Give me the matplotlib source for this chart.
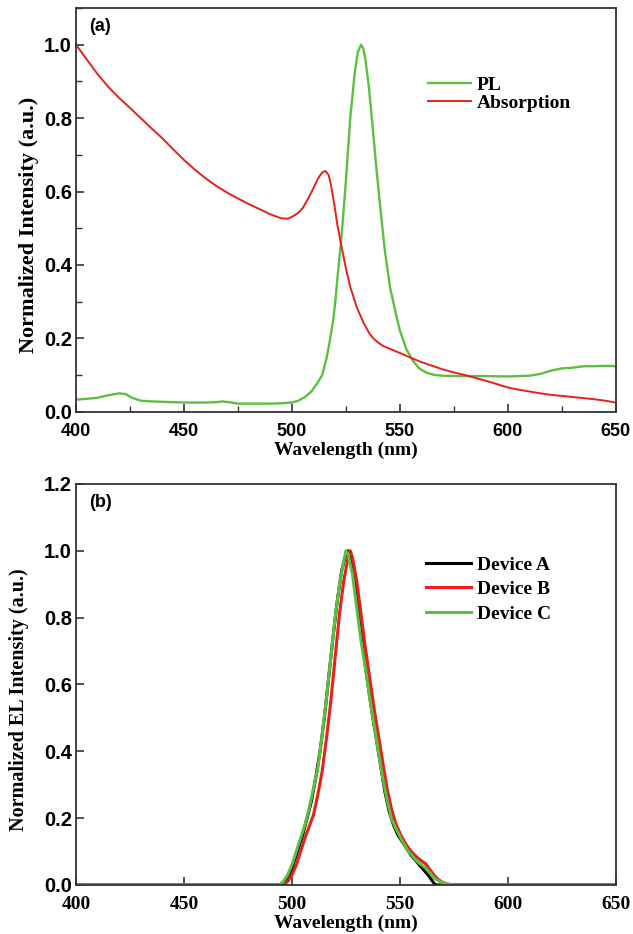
import matplotlib
matplotlib.use("Agg")
import matplotlib.pyplot as plt
from matplotlib.ticker import MultipleLocator

# ---- panel (a): PL and absorption ----
abs_wl = [400, 405, 410, 415, 420, 425, 430, 435, 440, 445, 450, 455, 460, 465,
          470, 475, 480, 485, 490, 495, 498, 500, 503, 505, 508, 510, 512, 514,
          515.5, 517, 518, 519, 520, 521, 523, 525, 527, 530, 533, 536, 538, 540,
          542, 545, 550, 555, 560, 565, 570, 575, 580, 585, 590, 595, 600, 605,
          610, 615, 620, 625, 630, 635, 640, 645, 650]
abs_val = [1.0, 0.96, 0.92, 0.885, 0.855, 0.828, 0.80, 0.772, 0.745, 0.715,
           0.686, 0.66, 0.636, 0.615, 0.597, 0.581, 0.566, 0.552, 0.538, 0.527,
           0.526, 0.531, 0.542, 0.555, 0.586, 0.61, 0.635, 0.652, 0.656, 0.645,
           0.62, 0.586, 0.55, 0.51, 0.449, 0.39, 0.34, 0.285, 0.244, 0.212, 0.198,
           0.188, 0.18, 0.172, 0.16, 0.147, 0.135, 0.125, 0.115, 0.107, 0.10,
           0.092, 0.084, 0.075, 0.066, 0.06, 0.055, 0.05, 0.046, 0.043, 0.04,
           0.037, 0.034, 0.03, 0.025]

pl_wl = [400, 405, 410, 415, 420, 423, 426, 430, 435, 440, 450, 460, 465, 468,
         472, 475, 480, 490, 495, 500, 503, 506, 509, 512, 514, 516, 517, 518,
         519, 520, 521, 522, 523, 525, 527, 529, 530.5, 532, 533, 534, 535.6,
         537, 539, 540.7, 543, 545.4, 548, 550, 553, 556, 559, 562, 566, 570,
         580, 590, 600, 610, 615, 620, 625, 630, 635, 640, 645, 650]
pl_val = [0.033, 0.035, 0.038, 0.045, 0.05, 0.048, 0.038, 0.03, 0.028, 0.027,
          0.025, 0.025, 0.026, 0.028, 0.025, 0.022, 0.022, 0.022, 0.023, 0.025,
          0.03, 0.04, 0.055, 0.08, 0.10, 0.145, 0.175, 0.21, 0.245, 0.295, 0.36,
          0.42, 0.48, 0.63, 0.80, 0.92, 0.98, 1.0, 0.99, 0.96, 0.886, 0.80, 0.67,
          0.567, 0.44, 0.34, 0.27, 0.221, 0.17, 0.139, 0.118, 0.107, 0.10, 0.098,
          0.097, 0.097, 0.096, 0.098, 0.103, 0.112, 0.118, 0.12, 0.124, 0.124,
          0.125, 0.124]

# ---- panel (b): EL of devices ----
a_wl = [400, 495, 497, 499, 501, 503, 505, 507, 509, 511, 513, 515, 517, 519,
        521, 523, 525, 526, 527, 529, 531, 533, 535, 537, 539, 541, 543, 545,
        547, 549, 551, 553, 555, 557, 559, 561, 563, 565, 566, 567, 650]
a_val = [0, 0, 0.01, 0.03, 0.07, 0.11, 0.15, 0.20, 0.25, 0.32, 0.40, 0.50, 0.62,
         0.74, 0.85, 0.94, 0.99, 1.0, 0.98, 0.91, 0.80, 0.70, 0.61, 0.52, 0.44,
         0.36, 0.28, 0.22, 0.18, 0.15, 0.13, 0.11, 0.09, 0.075, 0.06, 0.045,
         0.03, 0.012, 0.003, 0, 0]

b_wl = [400, 496, 498, 500, 502, 504, 506, 508, 510, 512, 514, 516, 518, 520,
        522, 524, 526, 527, 528, 530, 532, 534, 536, 538, 540, 542, 544, 546,
        548, 550, 552, 554, 556, 558, 560, 562, 564, 566, 568, 570, 572, 575, 650]
b_val = [0, 0, 0.01, 0.03, 0.06, 0.10, 0.14, 0.175, 0.21, 0.27, 0.34, 0.44, 0.55,
         0.68, 0.81, 0.91, 0.98, 1.0, 0.98, 0.91, 0.81, 0.71, 0.62, 0.53, 0.45,
         0.37, 0.29, 0.23, 0.185, 0.155, 0.13, 0.11, 0.095, 0.082, 0.072, 0.063,
         0.045, 0.028, 0.015, 0.007, 0.003, 0, 0]

c_wl = [400, 494, 496, 498, 500, 502, 504, 506, 508, 510, 512, 514, 516, 518,
        520, 522, 524, 525, 526, 528, 530, 532, 534, 536, 538, 540, 542, 544,
        546, 548, 550, 552, 554, 556, 558, 560, 562, 564, 566, 568, 570, 572,
        575, 650]
c_val = [0, 0, 0.01, 0.03, 0.06, 0.10, 0.14, 0.18, 0.23, 0.29, 0.35, 0.45, 0.56,
         0.68, 0.80, 0.90, 0.97, 1.0, 0.99, 0.93, 0.83, 0.73, 0.65, 0.56, 0.48,
         0.40, 0.32, 0.255, 0.20, 0.17, 0.145, 0.12, 0.10, 0.085, 0.07, 0.06,
         0.05, 0.035, 0.02, 0.012, 0.006, 0.002, 0, 0]

GREEN = "#5cbf3f"
RED = "#e8201c"
SERIF = "Liberation Serif"
SANS = "Liberation Sans"


def style_axes(ax, minor):
    for sp in ax.spines.values():
        sp.set_linewidth(1.3)
        sp.set_color("#333333")
    ax.set_xlim(400, 650)
    ax.xaxis.set_major_locator(MultipleLocator(50))
    ax.yaxis.set_major_locator(MultipleLocator(0.2))
    if minor:
        ax.xaxis.set_minor_locator(MultipleLocator(25))
        ax.yaxis.set_minor_locator(MultipleLocator(0.1))
    ax.tick_params(which="major", direction="in", length=6, width=1.2,
                   top=False, right=False, color="#333333")
    ax.tick_params(which="minor", direction="in", length=4, width=1.0,
                   top=False, right=False, color="#333333")
    ax.tick_params(axis="x", which="major", pad=8)
    ax.tick_params(axis="y", which="major", pad=3)
    ax.set_xlabel("Wavelength (nm)", fontsize=14, fontweight="bold",
                  family=SERIF, labelpad=1)


fig = plt.figure(figsize=(6.33, 9.34), dpi=100)

# panel (a)
ax1 = fig.add_axes([0.120, 0.5592, 0.853, 0.4322])
ax1.plot(pl_wl, pl_val, color=GREEN, lw=1.7, label="PL")
ax1.plot(abs_wl, abs_val, color=RED, lw=1.4, label="Absorption")
style_axes(ax1, minor=True)
ax1.set_ylim(0, 1.1)
ax1.set_yticks([0.0, 0.2, 0.4, 0.6, 0.8, 1.0])
ax1.set_ylabel("Normalized Intensity (a.u.)", fontsize=16, fontweight="bold",
               family=SERIF)
ax1.yaxis.set_label_coords(-0.068, 0.463)
for lab in ax1.get_xticklabels():
    lab.set_fontfamily(SANS)
    lab.set_fontweight("bold")
    lab.set_fontsize(13)
for lab in ax1.get_yticklabels():
    lab.set_fontfamily(SANS)
    lab.set_fontweight("bold")
    lab.set_fontsize(14.5)
ax1.text(0.025, 0.975, "(a)", transform=ax1.transAxes, ha="left", va="top",
         fontsize=13, fontweight="bold", family=SANS)
ax1.legend(loc="upper left", bbox_to_anchor=(0.652, 0.83), frameon=False,
           prop={"family": SERIF, "weight": "bold", "size": 14},
           handlelength=2.2, handletextpad=0.3, labelspacing=0.0,
           borderpad=0, borderaxespad=0)

# panel (b)
ax2 = fig.add_axes([0.120, 0.0525, 0.853, 0.4293])
ax2.plot(a_wl, a_val, color="black", lw=2.2, label="Device A")
ax2.plot(b_wl, b_val, color=RED, lw=2.2, label="Device B")
ax2.plot(c_wl, c_val, color=GREEN, lw=2.2, label="Device C")
style_axes(ax2, minor=False)
ax2.set_ylim(0, 1.2)
ax2.set_ylabel("Normalized EL Intensity (a.u.)", fontsize=14.5,
               fontweight="bold", family=SERIF)
ax2.yaxis.set_label_coords(-0.087, 0.461)
for lab in ax2.get_yticklabels():
    lab.set_fontfamily(SANS)
    lab.set_fontweight("bold")
    lab.set_fontsize(14.5)
for lab in ax2.get_xticklabels():
    lab.set_fontfamily(SERIF)
    lab.set_fontweight("bold")
    lab.set_fontsize(14)
ax2.text(0.025, 0.975, "(b)", transform=ax2.transAxes, ha="left", va="top",
         fontsize=13, fontweight="bold", family=SANS)
ax2.legend(loc="upper left", bbox_to_anchor=(0.649, 0.82), frameon=False,
           prop={"family": SERIF, "weight": "bold", "size": 14},
           handlelength=2.3, handletextpad=0.3, labelspacing=0.35,
           borderpad=0, borderaxespad=0)

fig.savefig("out.png", dpi=100)
